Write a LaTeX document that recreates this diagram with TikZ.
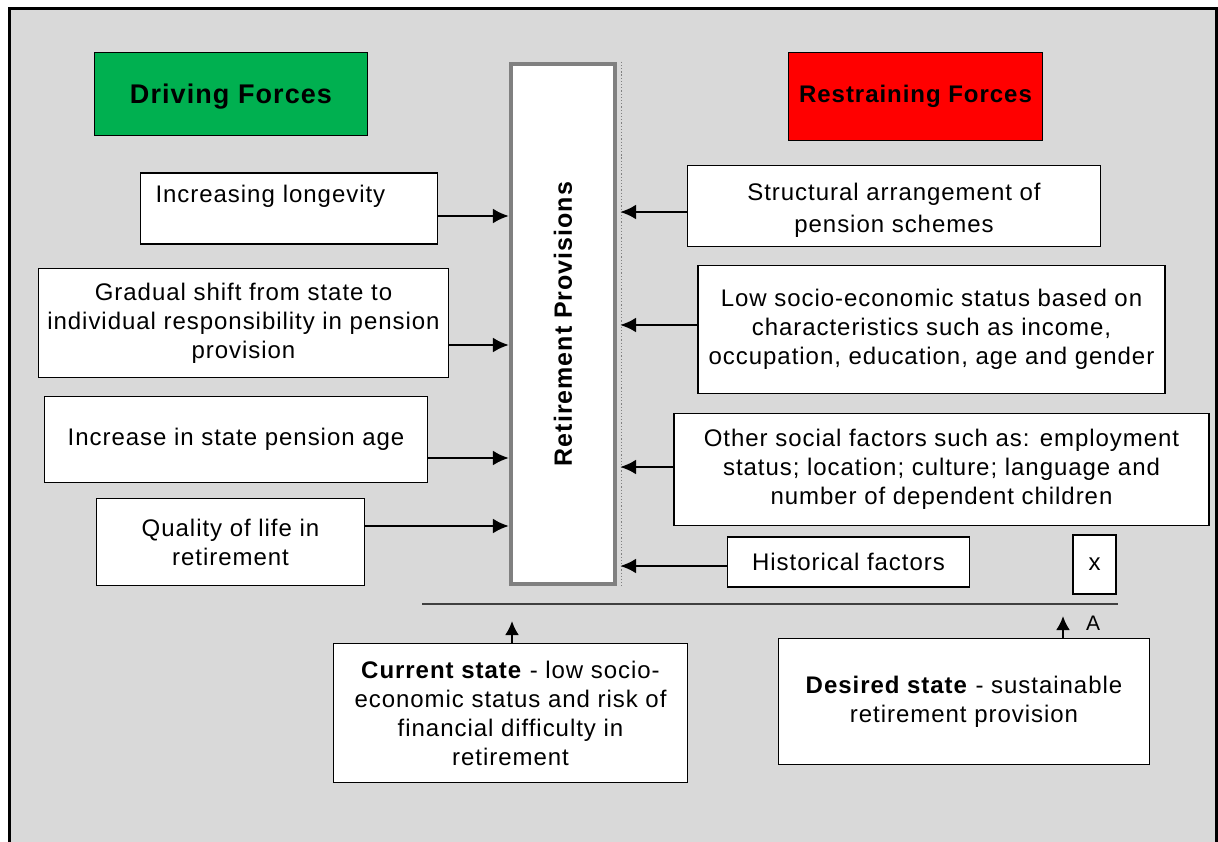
\documentclass[tikz,border=0pt]{standalone}
\usepackage{fontspec}
\setmainfont{Liberation Sans}[LetterSpace=4]
\usetikzlibrary{arrows.meta}

\definecolor{bgGray}{HTML}{D9D9D9}
\definecolor{drvGreen}{HTML}{00B050}
\definecolor{rstRed}{HTML}{FF0000}
\definecolor{rpGray}{HTML}{808080}

\begin{document}
\begin{tikzpicture}[x=1bp, y=-1bp, >={Latex[length=16bp,width=15bp]},
  every node/.style = {rectangle, draw=black, fill=white, line width=1.3bp,
    inner sep=0pt, align=center, font=\fontsize{24bp}{29bp}\selectfont},
  head/.style = {font=\fontsize{27bp}{30bp}\selectfont\bfseries},
  force/.style = {->, line width=2.8bp},
  move/.style = {->, line width=2.4bp, >={Latex[length=14bp,width=14bp]}}]

  \useasboundingbox (0,0) rectangle (1218,842);
  \fill[bgGray] (9.5,8.5) rectangle (1216,842);
  \draw[line width=3bp] (9.5,842) -- (9.5,8.5) -- (1216,8.5) -- (1216,842);

  \node (drv) at (231,94)     [head, text depth=0pt, fill=drvGreen, minimum width=274, minimum height=84] {Driving Forces};
  \node (rst) at (915.5,96.5) [head, font=\fontsize{24bp}{30bp}\selectfont\bfseries, fill=rstRed, minimum width=255, minimum height=89] {Restraining Forces};

  \node (rp) at (563,324) [draw=rpGray, line width=4.5bp, minimum width=104, minimum height=522] {};
  \node at (rp.center) [draw=none, fill=none, rotate=90, font=\fontsize{25bp}{29bp}\selectfont\bfseries] {Retirement Provisions};
  \draw[rpGray, dotted, line width=1.2bp] ([xshift=4.5bp]rp.north east) -- ([xshift=4.5bp]rp.south east);

  \node (lng) at (289,208.5)   [minimum width=298, minimum height=71, text width=268, align=left] {Increasing longevity\\\mbox{}};
  \node (shf) at (243.5,323)   [minimum width=411, minimum height=110] {Gradual shift from state to\\individual responsibility in pension\\provision};
  \node (age) at (236,439.5)   [minimum width=384, minimum height=87] {Increase in state pension age};
  \node (qol) at (230.5,542)   [minimum width=269, minimum height=88] {Quality of life in\\retirement};

  \node (str) at (894,206)     [minimum width=414, minimum height=81] {\\[-4bp]Structural arrangement of\\[3bp]pension schemes};
  \node (ses) at (931.5,329.5) [minimum width=469, minimum height=129] {Low socio-economic status based on\\characteristics such as income,\\occupation, education, age and gender};
  \node (soc) at (941.5,469.5) [minimum width=537, minimum height=113] {Other social factors such as: employment\\status; location; culture; language and\\number of dependent children};
  \node (his) at (848.5,562)   [minimum width=243, minimum height=50] {Historical factors};
  \node (xbx) at (1094.5,564.5) [minimum width=43, minimum height=59] {x};

  \coordinate (lnL) at (422,604);
  \coordinate (lnR) at (1118,604);
  \draw[line width=1.8bp, black!75] (lnL) -- (lnR);

  \node (cur) at (510.5,713)   [minimum width=355, minimum height=140] {\textbf{Current state} - low socio-\\economic status and risk of\\financial difficulty in\\retirement};
  \node (des) at (964,701.5)   [minimum width=372, minimum height=127] {\textbf{Desired state} - sustainable\\retirement provision};
  \node (lblA) at (1093,623)   [draw=none, fill=none, font=\fontsize{21bp}{24bp}\selectfont] {A};

  \coordinate (curTip) at (512,621);
  \coordinate (desTip) at (1063,616);

  \draw[force] (lng.east |- 0,216) -- (rp.west |- 0,216);
  \draw[force] (shf.east |- 0,345) -- (rp.west |- 0,345);
  \draw[force] (age.east |- 0,458) -- (rp.west |- 0,458);
  \draw[force] (qol.east |- 0,526) -- (rp.west |- 0,526);

  \draw[force] (str.west |- 0,212) -- ([xshift=3bp]rp.east |- 0,212);
  \draw[force] (ses.west |- 0,325) -- ([xshift=3bp]rp.east |- 0,325);
  \draw[force] (soc.west |- 0,467) -- ([xshift=3bp]rp.east |- 0,467);
  \draw[force] (his.west |- 0,566) -- ([xshift=3bp]rp.east |- 0,566);

  \draw[move] (curTip |- cur.north) -- (curTip);
  \draw[move] (desTip |- des.north) -- (desTip);

\end{tikzpicture}
\end{document}
